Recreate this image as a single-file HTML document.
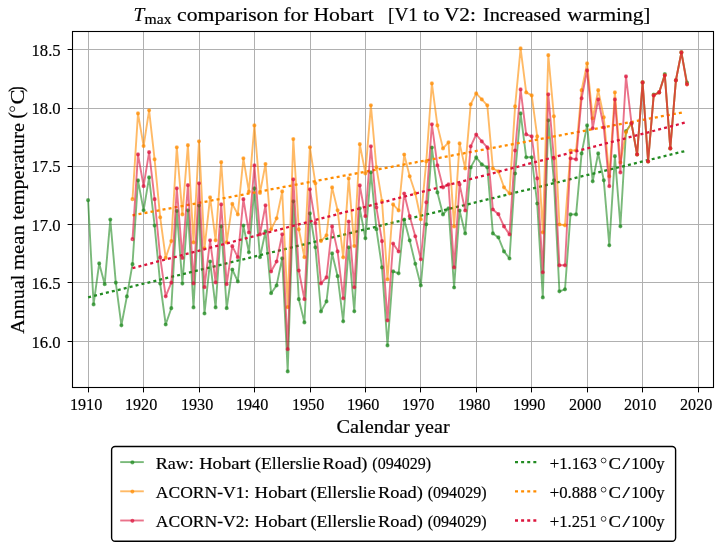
<!DOCTYPE html>
<html><head><meta charset="utf-8"><title>Tmax comparison for Hobart</title>
<style>
html,body{margin:0;padding:0;background:#fff;}
body{width:726px;height:551px;overflow:hidden;}
svg{display:block;will-change:transform;}
text{font-family:"Liberation Serif",serif;fill:#000;stroke:#000;stroke-width:0.18px;}
</style></head><body>
<svg width="726" height="551" viewBox="0 0 726 551">
<rect x="0" y="0" width="726" height="551" fill="#fff"/>
<g stroke="#b0b0b0" stroke-width="1" fill="none"><line x1="88.5" y1="31.5" x2="88.5" y2="387.5"/><line x1="143.5" y1="31.5" x2="143.5" y2="387.5"/><line x1="199.5" y1="31.5" x2="199.5" y2="387.5"/><line x1="254.5" y1="31.5" x2="254.5" y2="387.5"/><line x1="310.5" y1="31.5" x2="310.5" y2="387.5"/><line x1="365.5" y1="31.5" x2="365.5" y2="387.5"/><line x1="420.5" y1="31.5" x2="420.5" y2="387.5"/><line x1="476.5" y1="31.5" x2="476.5" y2="387.5"/><line x1="531.5" y1="31.5" x2="531.5" y2="387.5"/><line x1="587.5" y1="31.5" x2="587.5" y2="387.5"/><line x1="642.5" y1="31.5" x2="642.5" y2="387.5"/><line x1="698.5" y1="31.5" x2="698.5" y2="387.5"/><line x1="72.5" y1="341.5" x2="713.5" y2="341.5"/><line x1="72.5" y1="282.5" x2="713.5" y2="282.5"/><line x1="72.5" y1="224.5" x2="713.5" y2="224.5"/><line x1="72.5" y1="166.5" x2="713.5" y2="166.5"/><line x1="72.5" y1="108.5" x2="713.5" y2="108.5"/><line x1="72.5" y1="49.5" x2="713.5" y2="49.5"/></g>
<clipPath id="c"><rect x="72.5" y="31.5" width="641.0" height="356.0"/></clipPath>
<g clip-path="url(#c)">
<polyline points="88.1,200.2 93.6,304.4 99.2,263.4 104.7,284.2 110.3,219.6 115.8,282.7 121.4,325.3 126.9,296.4 132.5,264.2 138.0,180.4 143.6,210.3 149.1,177.4 154.6,225.6 160.2,283.6 165.7,324.5 171.3,308.2 176.8,210.9 182.4,283.6 187.9,210.3 193.5,307.4 199.0,205.5 204.5,313.5 210.1,261.5 215.6,307.4 221.2,226.4 226.7,308.2 232.3,269.5 237.8,281.4 243.4,225.6 248.9,252.3 254.4,188.4 260.0,257.2 265.5,231.4 271.1,293.2 276.6,285.4 282.2,258.3 287.7,371.4 293.3,201.3 298.8,299.2 304.4,322.4 309.9,213.4 315.4,247.3 321.0,311.4 326.5,301.4 332.1,253.4 337.6,276.2 343.2,321.3 348.7,247.3 354.3,311.3 359.8,208.3 365.4,238.3 370.9,172.3 376.4,229.2 382.0,267.4 387.5,345.4 393.1,271.3 398.6,273.3 404.2,219.5 409.7,240.4 415.3,263.8 420.8,285.4 426.3,224.3 431.9,147.5 437.4,192.4 443.0,214.4 448.5,208.3 454.1,287.5 459.6,210.5 465.2,233.4 470.7,167.4 476.2,157.4 481.8,164.4 487.3,167.4 492.9,233.4 498.4,237.4 504.0,251.4 509.5,258.5 515.1,173.5 520.6,113.4 526.2,157.3 531.7,157.3 537.2,203.5 542.8,297.4 548.3,120.3 553.9,180.3 559.4,291.3 565.0,289.3 570.5,214.4 576.1,214.4 581.6,153.4 587.1,125.4 592.7,181.3 598.2,153.4 603.8,180.3 609.3,245.3 614.9,156.2 620.4,226.3 626.0,131.2 631.5,123.3 637.1,154.5 642.6,82.4 648.1,161.5 653.7,94.6 659.2,92.4 664.8,74.1 670.3,148.4 675.9,80.3 681.4,52.4 687.0,82.5" fill="none" stroke="#228b22" stroke-width="1.9" stroke-opacity="0.6" stroke-linejoin="round"/>
<g fill="#228b22" fill-opacity="0.6" stroke="#228b22" stroke-opacity="0.6" stroke-width="1.39"><circle cx="88.1" cy="200.2" r="1.39"/><circle cx="93.6" cy="304.4" r="1.39"/><circle cx="99.2" cy="263.4" r="1.39"/><circle cx="104.7" cy="284.2" r="1.39"/><circle cx="110.3" cy="219.6" r="1.39"/><circle cx="115.8" cy="282.7" r="1.39"/><circle cx="121.4" cy="325.3" r="1.39"/><circle cx="126.9" cy="296.4" r="1.39"/><circle cx="132.5" cy="264.2" r="1.39"/><circle cx="138.0" cy="180.4" r="1.39"/><circle cx="143.6" cy="210.3" r="1.39"/><circle cx="149.1" cy="177.4" r="1.39"/><circle cx="154.6" cy="225.6" r="1.39"/><circle cx="160.2" cy="283.6" r="1.39"/><circle cx="165.7" cy="324.5" r="1.39"/><circle cx="171.3" cy="308.2" r="1.39"/><circle cx="176.8" cy="210.9" r="1.39"/><circle cx="182.4" cy="283.6" r="1.39"/><circle cx="187.9" cy="210.3" r="1.39"/><circle cx="193.5" cy="307.4" r="1.39"/><circle cx="199.0" cy="205.5" r="1.39"/><circle cx="204.5" cy="313.5" r="1.39"/><circle cx="210.1" cy="261.5" r="1.39"/><circle cx="215.6" cy="307.4" r="1.39"/><circle cx="221.2" cy="226.4" r="1.39"/><circle cx="226.7" cy="308.2" r="1.39"/><circle cx="232.3" cy="269.5" r="1.39"/><circle cx="237.8" cy="281.4" r="1.39"/><circle cx="243.4" cy="225.6" r="1.39"/><circle cx="248.9" cy="252.3" r="1.39"/><circle cx="254.4" cy="188.4" r="1.39"/><circle cx="260.0" cy="257.2" r="1.39"/><circle cx="265.5" cy="231.4" r="1.39"/><circle cx="271.1" cy="293.2" r="1.39"/><circle cx="276.6" cy="285.4" r="1.39"/><circle cx="282.2" cy="258.3" r="1.39"/><circle cx="287.7" cy="371.4" r="1.39"/><circle cx="293.3" cy="201.3" r="1.39"/><circle cx="298.8" cy="299.2" r="1.39"/><circle cx="304.4" cy="322.4" r="1.39"/><circle cx="309.9" cy="213.4" r="1.39"/><circle cx="315.4" cy="247.3" r="1.39"/><circle cx="321.0" cy="311.4" r="1.39"/><circle cx="326.5" cy="301.4" r="1.39"/><circle cx="332.1" cy="253.4" r="1.39"/><circle cx="337.6" cy="276.2" r="1.39"/><circle cx="343.2" cy="321.3" r="1.39"/><circle cx="348.7" cy="247.3" r="1.39"/><circle cx="354.3" cy="311.3" r="1.39"/><circle cx="359.8" cy="208.3" r="1.39"/><circle cx="365.4" cy="238.3" r="1.39"/><circle cx="370.9" cy="172.3" r="1.39"/><circle cx="376.4" cy="229.2" r="1.39"/><circle cx="382.0" cy="267.4" r="1.39"/><circle cx="387.5" cy="345.4" r="1.39"/><circle cx="393.1" cy="271.3" r="1.39"/><circle cx="398.6" cy="273.3" r="1.39"/><circle cx="404.2" cy="219.5" r="1.39"/><circle cx="409.7" cy="240.4" r="1.39"/><circle cx="415.3" cy="263.8" r="1.39"/><circle cx="420.8" cy="285.4" r="1.39"/><circle cx="426.3" cy="224.3" r="1.39"/><circle cx="431.9" cy="147.5" r="1.39"/><circle cx="437.4" cy="192.4" r="1.39"/><circle cx="443.0" cy="214.4" r="1.39"/><circle cx="448.5" cy="208.3" r="1.39"/><circle cx="454.1" cy="287.5" r="1.39"/><circle cx="459.6" cy="210.5" r="1.39"/><circle cx="465.2" cy="233.4" r="1.39"/><circle cx="470.7" cy="167.4" r="1.39"/><circle cx="476.2" cy="157.4" r="1.39"/><circle cx="481.8" cy="164.4" r="1.39"/><circle cx="487.3" cy="167.4" r="1.39"/><circle cx="492.9" cy="233.4" r="1.39"/><circle cx="498.4" cy="237.4" r="1.39"/><circle cx="504.0" cy="251.4" r="1.39"/><circle cx="509.5" cy="258.5" r="1.39"/><circle cx="515.1" cy="173.5" r="1.39"/><circle cx="520.6" cy="113.4" r="1.39"/><circle cx="526.2" cy="157.3" r="1.39"/><circle cx="531.7" cy="157.3" r="1.39"/><circle cx="537.2" cy="203.5" r="1.39"/><circle cx="542.8" cy="297.4" r="1.39"/><circle cx="548.3" cy="120.3" r="1.39"/><circle cx="553.9" cy="180.3" r="1.39"/><circle cx="559.4" cy="291.3" r="1.39"/><circle cx="565.0" cy="289.3" r="1.39"/><circle cx="570.5" cy="214.4" r="1.39"/><circle cx="576.1" cy="214.4" r="1.39"/><circle cx="581.6" cy="153.4" r="1.39"/><circle cx="587.1" cy="125.4" r="1.39"/><circle cx="592.7" cy="181.3" r="1.39"/><circle cx="598.2" cy="153.4" r="1.39"/><circle cx="603.8" cy="180.3" r="1.39"/><circle cx="609.3" cy="245.3" r="1.39"/><circle cx="614.9" cy="156.2" r="1.39"/><circle cx="620.4" cy="226.3" r="1.39"/><circle cx="626.0" cy="131.2" r="1.39"/><circle cx="631.5" cy="123.3" r="1.39"/><circle cx="637.1" cy="154.5" r="1.39"/><circle cx="642.6" cy="82.4" r="1.39"/><circle cx="648.1" cy="161.5" r="1.39"/><circle cx="653.7" cy="94.6" r="1.39"/><circle cx="659.2" cy="92.4" r="1.39"/><circle cx="664.8" cy="74.1" r="1.39"/><circle cx="670.3" cy="148.4" r="1.39"/><circle cx="675.9" cy="80.3" r="1.39"/><circle cx="681.4" cy="52.4" r="1.39"/><circle cx="687.0" cy="82.5" r="1.39"/></g>
<line x1="88.1" y1="297.3" x2="687.0" y2="150.6" stroke="#228b22" stroke-width="2.3" stroke-dasharray="3 3.108"/>
<polyline points="132.5,199.2 138.0,113.4 143.6,146.1 149.1,110.3 154.6,159.3 160.2,217.3 165.7,257.9 171.3,241.1 176.8,147.3 182.4,214.4 187.9,145.2 193.5,242.4 199.0,141.3 204.5,248.3 210.1,197.4 215.6,240.3 221.2,162.2 226.7,242.4 232.3,203.9 237.8,214.4 243.4,158.3 248.9,191.7 254.4,125.4 260.0,192.9 265.5,164.0 271.1,229.3 276.6,218.3 282.2,191.4 287.7,307.2 293.3,139.1 298.8,229.3 304.4,257.2 309.9,147.3 315.4,183.3 321.0,241.1 326.5,235.3 332.1,187.4 337.6,210.3 343.2,257.3 348.7,178.4 354.3,246.1 359.8,144.2 365.4,173.4 370.9,105.3 376.4,167.3 382.0,201.1 387.5,279.4 393.1,204.4 398.6,210.4 404.2,154.5 409.7,176.3 415.3,193.3 420.8,219.3 426.3,161.4 431.9,83.4 437.4,125.4 443.0,148.4 448.5,142.3 454.1,226.4 459.6,143.4 465.2,168.4 470.7,104.3 476.2,93.4 481.8,99.4 487.3,105.3 492.9,168.5 498.4,171.4 504.0,187.3 509.5,193.3 515.1,106.4 520.6,48.4 526.2,92.4 531.7,95.4 537.2,136.4 542.8,232.3 548.3,55.2 553.9,116.3 559.4,224.5 565.0,225.3 570.5,150.5 576.1,150.5 581.6,90.2 587.1,63.4 592.7,118.4 598.2,90.2 603.8,117.3 609.3,176.3 614.9,92.4 620.4,162.5 626.0,132.3 631.5,123.3 637.1,154.5 642.6,82.4 648.1,161.5 653.7,95.4 659.2,92.4 664.8,75.3 670.3,148.4 675.9,80.3 681.4,52.4 687.0,84.3" fill="none" stroke="#ff8c00" stroke-width="1.9" stroke-opacity="0.6" stroke-linejoin="round"/>
<g fill="#ff8c00" fill-opacity="0.6" stroke="#ff8c00" stroke-opacity="0.6" stroke-width="1.39"><circle cx="132.5" cy="199.2" r="1.39"/><circle cx="138.0" cy="113.4" r="1.39"/><circle cx="143.6" cy="146.1" r="1.39"/><circle cx="149.1" cy="110.3" r="1.39"/><circle cx="154.6" cy="159.3" r="1.39"/><circle cx="160.2" cy="217.3" r="1.39"/><circle cx="165.7" cy="257.9" r="1.39"/><circle cx="171.3" cy="241.1" r="1.39"/><circle cx="176.8" cy="147.3" r="1.39"/><circle cx="182.4" cy="214.4" r="1.39"/><circle cx="187.9" cy="145.2" r="1.39"/><circle cx="193.5" cy="242.4" r="1.39"/><circle cx="199.0" cy="141.3" r="1.39"/><circle cx="204.5" cy="248.3" r="1.39"/><circle cx="210.1" cy="197.4" r="1.39"/><circle cx="215.6" cy="240.3" r="1.39"/><circle cx="221.2" cy="162.2" r="1.39"/><circle cx="226.7" cy="242.4" r="1.39"/><circle cx="232.3" cy="203.9" r="1.39"/><circle cx="237.8" cy="214.4" r="1.39"/><circle cx="243.4" cy="158.3" r="1.39"/><circle cx="248.9" cy="191.7" r="1.39"/><circle cx="254.4" cy="125.4" r="1.39"/><circle cx="260.0" cy="192.9" r="1.39"/><circle cx="265.5" cy="164.0" r="1.39"/><circle cx="271.1" cy="229.3" r="1.39"/><circle cx="276.6" cy="218.3" r="1.39"/><circle cx="282.2" cy="191.4" r="1.39"/><circle cx="287.7" cy="307.2" r="1.39"/><circle cx="293.3" cy="139.1" r="1.39"/><circle cx="298.8" cy="229.3" r="1.39"/><circle cx="304.4" cy="257.2" r="1.39"/><circle cx="309.9" cy="147.3" r="1.39"/><circle cx="315.4" cy="183.3" r="1.39"/><circle cx="321.0" cy="241.1" r="1.39"/><circle cx="326.5" cy="235.3" r="1.39"/><circle cx="332.1" cy="187.4" r="1.39"/><circle cx="337.6" cy="210.3" r="1.39"/><circle cx="343.2" cy="257.3" r="1.39"/><circle cx="348.7" cy="178.4" r="1.39"/><circle cx="354.3" cy="246.1" r="1.39"/><circle cx="359.8" cy="144.2" r="1.39"/><circle cx="365.4" cy="173.4" r="1.39"/><circle cx="370.9" cy="105.3" r="1.39"/><circle cx="376.4" cy="167.3" r="1.39"/><circle cx="382.0" cy="201.1" r="1.39"/><circle cx="387.5" cy="279.4" r="1.39"/><circle cx="393.1" cy="204.4" r="1.39"/><circle cx="398.6" cy="210.4" r="1.39"/><circle cx="404.2" cy="154.5" r="1.39"/><circle cx="409.7" cy="176.3" r="1.39"/><circle cx="415.3" cy="193.3" r="1.39"/><circle cx="420.8" cy="219.3" r="1.39"/><circle cx="426.3" cy="161.4" r="1.39"/><circle cx="431.9" cy="83.4" r="1.39"/><circle cx="437.4" cy="125.4" r="1.39"/><circle cx="443.0" cy="148.4" r="1.39"/><circle cx="448.5" cy="142.3" r="1.39"/><circle cx="454.1" cy="226.4" r="1.39"/><circle cx="459.6" cy="143.4" r="1.39"/><circle cx="465.2" cy="168.4" r="1.39"/><circle cx="470.7" cy="104.3" r="1.39"/><circle cx="476.2" cy="93.4" r="1.39"/><circle cx="481.8" cy="99.4" r="1.39"/><circle cx="487.3" cy="105.3" r="1.39"/><circle cx="492.9" cy="168.5" r="1.39"/><circle cx="498.4" cy="171.4" r="1.39"/><circle cx="504.0" cy="187.3" r="1.39"/><circle cx="509.5" cy="193.3" r="1.39"/><circle cx="515.1" cy="106.4" r="1.39"/><circle cx="520.6" cy="48.4" r="1.39"/><circle cx="526.2" cy="92.4" r="1.39"/><circle cx="531.7" cy="95.4" r="1.39"/><circle cx="537.2" cy="136.4" r="1.39"/><circle cx="542.8" cy="232.3" r="1.39"/><circle cx="548.3" cy="55.2" r="1.39"/><circle cx="553.9" cy="116.3" r="1.39"/><circle cx="559.4" cy="224.5" r="1.39"/><circle cx="565.0" cy="225.3" r="1.39"/><circle cx="570.5" cy="150.5" r="1.39"/><circle cx="576.1" cy="150.5" r="1.39"/><circle cx="581.6" cy="90.2" r="1.39"/><circle cx="587.1" cy="63.4" r="1.39"/><circle cx="592.7" cy="118.4" r="1.39"/><circle cx="598.2" cy="90.2" r="1.39"/><circle cx="603.8" cy="117.3" r="1.39"/><circle cx="609.3" cy="176.3" r="1.39"/><circle cx="614.9" cy="92.4" r="1.39"/><circle cx="620.4" cy="162.5" r="1.39"/><circle cx="626.0" cy="132.3" r="1.39"/><circle cx="631.5" cy="123.3" r="1.39"/><circle cx="637.1" cy="154.5" r="1.39"/><circle cx="642.6" cy="82.4" r="1.39"/><circle cx="648.1" cy="161.5" r="1.39"/><circle cx="653.7" cy="95.4" r="1.39"/><circle cx="659.2" cy="92.4" r="1.39"/><circle cx="664.8" cy="75.3" r="1.39"/><circle cx="670.3" cy="148.4" r="1.39"/><circle cx="675.9" cy="80.3" r="1.39"/><circle cx="681.4" cy="52.4" r="1.39"/><circle cx="687.0" cy="84.3" r="1.39"/></g>
<line x1="132.5" y1="215.3" x2="684.2" y2="112.1" stroke="#ff8c00" stroke-width="2.3" stroke-dasharray="3 3.108"/>
<polyline points="132.5,239.2 138.0,154.4 143.6,186.2 149.1,152.2 154.6,199.2 160.2,257.4 165.7,296.3 171.3,282.7 176.8,188.3 182.4,257.9 187.9,185.2 193.5,283.4 199.0,183.3 204.5,287.2 210.1,240.3 215.6,282.4 221.2,204.4 226.7,284.2 232.3,246.2 237.8,257.2 243.4,199.2 248.9,232.5 254.4,165.3 260.0,234.3 265.5,205.3 271.1,271.5 276.6,261.5 282.2,234.3 287.7,349.2 293.3,179.3 298.8,270.5 304.4,299.2 309.9,189.3 315.4,223.1 321.0,283.4 326.5,277.4 332.1,226.4 337.6,251.4 343.2,298.3 348.7,221.5 354.3,287.3 359.8,185.4 365.4,216.2 370.9,146.3 376.4,207.4 382.0,241.2 387.5,320.4 393.1,243.6 398.6,251.5 404.2,193.5 409.7,216.2 415.3,236.3 420.8,259.3 426.3,202.3 431.9,124.3 437.4,165.3 443.0,187.4 448.5,184.4 454.1,267.4 459.6,184.4 465.2,210.5 470.7,146.3 476.2,134.5 481.8,141.4 487.3,147.3 492.9,209.5 498.4,214.2 504.0,226.4 509.5,234.4 515.1,150.5 520.6,89.4 526.2,134.4 531.7,136.4 537.2,178.4 542.8,272.3 548.3,94.3 553.9,158.3 559.4,265.3 565.0,265.3 570.5,158.3 576.1,159.4 581.6,98.3 587.1,70.4 592.7,128.3 598.2,99.4 603.8,127.5 609.3,186.2 614.9,99.4 620.4,172.4 626.0,76.4 631.5,123.3 637.1,154.5 642.6,82.4 648.1,161.5 653.7,95.4 659.2,92.4 664.8,75.3 670.3,148.4 675.9,80.3 681.4,52.4 687.0,84.3" fill="none" stroke="#dc143c" stroke-width="1.9" stroke-opacity="0.6" stroke-linejoin="round"/>
<g fill="#dc143c" fill-opacity="0.6" stroke="#dc143c" stroke-opacity="0.6" stroke-width="1.39"><circle cx="132.5" cy="239.2" r="1.39"/><circle cx="138.0" cy="154.4" r="1.39"/><circle cx="143.6" cy="186.2" r="1.39"/><circle cx="149.1" cy="152.2" r="1.39"/><circle cx="154.6" cy="199.2" r="1.39"/><circle cx="160.2" cy="257.4" r="1.39"/><circle cx="165.7" cy="296.3" r="1.39"/><circle cx="171.3" cy="282.7" r="1.39"/><circle cx="176.8" cy="188.3" r="1.39"/><circle cx="182.4" cy="257.9" r="1.39"/><circle cx="187.9" cy="185.2" r="1.39"/><circle cx="193.5" cy="283.4" r="1.39"/><circle cx="199.0" cy="183.3" r="1.39"/><circle cx="204.5" cy="287.2" r="1.39"/><circle cx="210.1" cy="240.3" r="1.39"/><circle cx="215.6" cy="282.4" r="1.39"/><circle cx="221.2" cy="204.4" r="1.39"/><circle cx="226.7" cy="284.2" r="1.39"/><circle cx="232.3" cy="246.2" r="1.39"/><circle cx="237.8" cy="257.2" r="1.39"/><circle cx="243.4" cy="199.2" r="1.39"/><circle cx="248.9" cy="232.5" r="1.39"/><circle cx="254.4" cy="165.3" r="1.39"/><circle cx="260.0" cy="234.3" r="1.39"/><circle cx="265.5" cy="205.3" r="1.39"/><circle cx="271.1" cy="271.5" r="1.39"/><circle cx="276.6" cy="261.5" r="1.39"/><circle cx="282.2" cy="234.3" r="1.39"/><circle cx="287.7" cy="349.2" r="1.39"/><circle cx="293.3" cy="179.3" r="1.39"/><circle cx="298.8" cy="270.5" r="1.39"/><circle cx="304.4" cy="299.2" r="1.39"/><circle cx="309.9" cy="189.3" r="1.39"/><circle cx="315.4" cy="223.1" r="1.39"/><circle cx="321.0" cy="283.4" r="1.39"/><circle cx="326.5" cy="277.4" r="1.39"/><circle cx="332.1" cy="226.4" r="1.39"/><circle cx="337.6" cy="251.4" r="1.39"/><circle cx="343.2" cy="298.3" r="1.39"/><circle cx="348.7" cy="221.5" r="1.39"/><circle cx="354.3" cy="287.3" r="1.39"/><circle cx="359.8" cy="185.4" r="1.39"/><circle cx="365.4" cy="216.2" r="1.39"/><circle cx="370.9" cy="146.3" r="1.39"/><circle cx="376.4" cy="207.4" r="1.39"/><circle cx="382.0" cy="241.2" r="1.39"/><circle cx="387.5" cy="320.4" r="1.39"/><circle cx="393.1" cy="243.6" r="1.39"/><circle cx="398.6" cy="251.5" r="1.39"/><circle cx="404.2" cy="193.5" r="1.39"/><circle cx="409.7" cy="216.2" r="1.39"/><circle cx="415.3" cy="236.3" r="1.39"/><circle cx="420.8" cy="259.3" r="1.39"/><circle cx="426.3" cy="202.3" r="1.39"/><circle cx="431.9" cy="124.3" r="1.39"/><circle cx="437.4" cy="165.3" r="1.39"/><circle cx="443.0" cy="187.4" r="1.39"/><circle cx="448.5" cy="184.4" r="1.39"/><circle cx="454.1" cy="267.4" r="1.39"/><circle cx="459.6" cy="184.4" r="1.39"/><circle cx="465.2" cy="210.5" r="1.39"/><circle cx="470.7" cy="146.3" r="1.39"/><circle cx="476.2" cy="134.5" r="1.39"/><circle cx="481.8" cy="141.4" r="1.39"/><circle cx="487.3" cy="147.3" r="1.39"/><circle cx="492.9" cy="209.5" r="1.39"/><circle cx="498.4" cy="214.2" r="1.39"/><circle cx="504.0" cy="226.4" r="1.39"/><circle cx="509.5" cy="234.4" r="1.39"/><circle cx="515.1" cy="150.5" r="1.39"/><circle cx="520.6" cy="89.4" r="1.39"/><circle cx="526.2" cy="134.4" r="1.39"/><circle cx="531.7" cy="136.4" r="1.39"/><circle cx="537.2" cy="178.4" r="1.39"/><circle cx="542.8" cy="272.3" r="1.39"/><circle cx="548.3" cy="94.3" r="1.39"/><circle cx="553.9" cy="158.3" r="1.39"/><circle cx="559.4" cy="265.3" r="1.39"/><circle cx="565.0" cy="265.3" r="1.39"/><circle cx="570.5" cy="158.3" r="1.39"/><circle cx="576.1" cy="159.4" r="1.39"/><circle cx="581.6" cy="98.3" r="1.39"/><circle cx="587.1" cy="70.4" r="1.39"/><circle cx="592.7" cy="128.3" r="1.39"/><circle cx="598.2" cy="99.4" r="1.39"/><circle cx="603.8" cy="127.5" r="1.39"/><circle cx="609.3" cy="186.2" r="1.39"/><circle cx="614.9" cy="99.4" r="1.39"/><circle cx="620.4" cy="172.4" r="1.39"/><circle cx="626.0" cy="76.4" r="1.39"/><circle cx="631.5" cy="123.3" r="1.39"/><circle cx="637.1" cy="154.5" r="1.39"/><circle cx="642.6" cy="82.4" r="1.39"/><circle cx="648.1" cy="161.5" r="1.39"/><circle cx="653.7" cy="95.4" r="1.39"/><circle cx="659.2" cy="92.4" r="1.39"/><circle cx="664.8" cy="75.3" r="1.39"/><circle cx="670.3" cy="148.4" r="1.39"/><circle cx="675.9" cy="80.3" r="1.39"/><circle cx="681.4" cy="52.4" r="1.39"/><circle cx="687.0" cy="84.3" r="1.39"/></g>
<line x1="132.5" y1="268.2" x2="687.0" y2="122.1" stroke="#dc143c" stroke-width="2.3" stroke-dasharray="3 3.108"/>
</g>
<rect x="72.5" y="31.5" width="641.0" height="356.0" fill="none" stroke="#000" stroke-width="1.1"/>
<g stroke="#000" stroke-width="1"><line x1="88.5" y1="387.5" x2="88.5" y2="392.4"/><line x1="143.5" y1="387.5" x2="143.5" y2="392.4"/><line x1="199.5" y1="387.5" x2="199.5" y2="392.4"/><line x1="254.5" y1="387.5" x2="254.5" y2="392.4"/><line x1="310.5" y1="387.5" x2="310.5" y2="392.4"/><line x1="365.5" y1="387.5" x2="365.5" y2="392.4"/><line x1="420.5" y1="387.5" x2="420.5" y2="392.4"/><line x1="476.5" y1="387.5" x2="476.5" y2="392.4"/><line x1="531.5" y1="387.5" x2="531.5" y2="392.4"/><line x1="587.5" y1="387.5" x2="587.5" y2="392.4"/><line x1="642.5" y1="387.5" x2="642.5" y2="392.4"/><line x1="698.5" y1="387.5" x2="698.5" y2="392.4"/><line x1="67.6" y1="341.5" x2="72.5" y2="341.5"/><line x1="67.6" y1="282.5" x2="72.5" y2="282.5"/><line x1="67.6" y1="224.5" x2="72.5" y2="224.5"/><line x1="67.6" y1="166.5" x2="72.5" y2="166.5"/><line x1="67.6" y1="108.5" x2="72.5" y2="108.5"/><line x1="67.6" y1="49.5" x2="72.5" y2="49.5"/></g>
<text x="86.1" y="409.7" font-size="17.5px" text-anchor="middle" textLength="32.4" lengthAdjust="spacingAndGlyphs">1910</text><text x="141.1" y="409.7" font-size="17.5px" text-anchor="middle" textLength="32.4" lengthAdjust="spacingAndGlyphs">1920</text><text x="197.1" y="409.7" font-size="17.5px" text-anchor="middle" textLength="32.4" lengthAdjust="spacingAndGlyphs">1930</text><text x="252.1" y="409.7" font-size="17.5px" text-anchor="middle" textLength="32.4" lengthAdjust="spacingAndGlyphs">1940</text><text x="308.1" y="409.7" font-size="17.5px" text-anchor="middle" textLength="32.4" lengthAdjust="spacingAndGlyphs">1950</text><text x="363.1" y="409.7" font-size="17.5px" text-anchor="middle" textLength="32.4" lengthAdjust="spacingAndGlyphs">1960</text><text x="418.1" y="409.7" font-size="17.5px" text-anchor="middle" textLength="32.4" lengthAdjust="spacingAndGlyphs">1970</text><text x="474.1" y="409.7" font-size="17.5px" text-anchor="middle" textLength="32.4" lengthAdjust="spacingAndGlyphs">1980</text><text x="529.1" y="409.7" font-size="17.5px" text-anchor="middle" textLength="32.4" lengthAdjust="spacingAndGlyphs">1990</text><text x="585.1" y="409.7" font-size="17.5px" text-anchor="middle" textLength="32.4" lengthAdjust="spacingAndGlyphs">2000</text><text x="640.1" y="409.7" font-size="17.5px" text-anchor="middle" textLength="32.4" lengthAdjust="spacingAndGlyphs">2010</text><text x="696.1" y="409.7" font-size="17.5px" text-anchor="middle" textLength="32.4" lengthAdjust="spacingAndGlyphs">2020</text>
<text x="60.7" y="347.5" font-size="17.5px" text-anchor="end" textLength="29.2" lengthAdjust="spacingAndGlyphs">16.0</text><text x="60.7" y="289.1" font-size="17.5px" text-anchor="end" textLength="29.2" lengthAdjust="spacingAndGlyphs">16.5</text><text x="60.7" y="230.7" font-size="17.5px" text-anchor="end" textLength="29.2" lengthAdjust="spacingAndGlyphs">17.0</text><text x="60.7" y="172.4" font-size="17.5px" text-anchor="end" textLength="29.2" lengthAdjust="spacingAndGlyphs">17.5</text><text x="60.7" y="114.0" font-size="17.5px" text-anchor="end" textLength="29.2" lengthAdjust="spacingAndGlyphs">18.0</text><text x="60.7" y="55.6" font-size="17.5px" text-anchor="end" textLength="29.2" lengthAdjust="spacingAndGlyphs">18.5</text>
<text x="336.4" y="432.7" font-size="19.5px" textLength="73.4" lengthAdjust="spacingAndGlyphs">Calendar</text><text x="415.0" y="432.7" font-size="19.5px" textLength="34.6" lengthAdjust="spacingAndGlyphs">year</text>
<text transform="translate(23.8,333.7) rotate(-90)" font-size="19.5px" textLength="59.1" lengthAdjust="spacingAndGlyphs">Annual</text><text transform="translate(23.8,270.1) rotate(-90)" font-size="19.5px" textLength="44.9" lengthAdjust="spacingAndGlyphs">mean</text><text transform="translate(23.8,220.0) rotate(-90)" font-size="19.5px" textLength="97.0" lengthAdjust="spacingAndGlyphs">temperature</text><text transform="translate(23.1,118.5) rotate(-90)" font-size="21.0px" textLength="6.3" lengthAdjust="spacingAndGlyphs">(</text><text transform="translate(23.8,104.4) rotate(-90)" font-size="19.5px" textLength="15.0" lengthAdjust="spacingAndGlyphs">C</text><text transform="translate(23.1,92.1) rotate(-90)" font-size="21.0px" textLength="5.6" lengthAdjust="spacingAndGlyphs">)</text><circle cx="12.3" cy="109.0" r="2.45" fill="none" stroke="#000" stroke-width="0.8"/>
<text x="133.6" y="21.2" font-size="19.5px" font-style="italic">T</text><text x="144.6" y="24.3" font-size="14.6px" textLength="27.0" lengthAdjust="spacingAndGlyphs">max</text><text x="177.1" y="21.2" font-size="19.5px" textLength="101.2" lengthAdjust="spacingAndGlyphs">comparison</text><text x="283.5" y="21.2" font-size="19.5px" textLength="24.7" lengthAdjust="spacingAndGlyphs">for</text><text x="313.4" y="21.2" font-size="19.5px" textLength="60.3" lengthAdjust="spacingAndGlyphs">Hobart</text><text x="388.0" y="21.2" font-size="19.5px" textLength="29.9" lengthAdjust="spacingAndGlyphs">[V1</text><text x="423.1" y="21.2" font-size="19.5px" textLength="16.4" lengthAdjust="spacingAndGlyphs">to</text><text x="443.9" y="21.2" font-size="19.5px" textLength="31.9" lengthAdjust="spacingAndGlyphs">V2:</text><text x="482.9" y="21.2" font-size="19.5px" textLength="77.7" lengthAdjust="spacingAndGlyphs">Increased</text><text x="567.3" y="21.2" font-size="19.5px" textLength="83.2" lengthAdjust="spacingAndGlyphs">warming]</text>
<rect x="111.6" y="446.5" width="564" height="94.7" rx="3.5" ry="3.5" fill="#fff" stroke="#000" stroke-width="1.4"/>
<line x1="120.2" y1="462.1" x2="143.8" y2="462.1" stroke="#228b22" stroke-width="1.9" stroke-opacity="0.6"/><circle cx="132.4" cy="462.4" r="1.39" fill="#228b22" fill-opacity="0.6" stroke="#228b22" stroke-opacity="0.6" stroke-width="1.39"/><text x="155.8" y="468.8" font-size="16.8px" textLength="38.1" lengthAdjust="spacingAndGlyphs">Raw:</text><text x="199.2" y="468.8" font-size="16.8px" textLength="51.6" lengthAdjust="spacingAndGlyphs">Hobart</text><text x="255.1" y="468.8" font-size="16.8px" textLength="65.1" lengthAdjust="spacingAndGlyphs">(Ellerslie</text><text x="322.6" y="468.8" font-size="16.8px" textLength="44.9" lengthAdjust="spacingAndGlyphs">Road)</text><text x="372.3" y="468.8" font-size="16.8px" textLength="58.8" lengthAdjust="spacingAndGlyphs">(094029)</text><line x1="515.0" y1="462.1" x2="538.4" y2="462.1" stroke="#228b22" stroke-width="2.3" stroke-dasharray="3 3.108"/><text x="549.8" y="468.8" font-size="16.8px" textLength="47.0" lengthAdjust="spacingAndGlyphs">+1.163</text><circle cx="603.6" cy="460.5" r="2.4" fill="none" stroke="#000" stroke-width="0.75"/><text x="608.6" y="468.8" font-size="16.8px" textLength="12.5" lengthAdjust="spacingAndGlyphs">C</text><text x="622.6" y="468.8" font-size="16.8px" textLength="7.5" lengthAdjust="spacingAndGlyphs">/</text><text x="631.2" y="468.8" font-size="16.8px" textLength="33.5" lengthAdjust="spacingAndGlyphs">100y</text>
<line x1="120.2" y1="491.3" x2="143.8" y2="491.3" stroke="#ff8c00" stroke-width="1.9" stroke-opacity="0.6"/><circle cx="132.4" cy="491.6" r="1.39" fill="#ff8c00" fill-opacity="0.6" stroke="#ff8c00" stroke-opacity="0.6" stroke-width="1.39"/><text x="155.8" y="498.0" font-size="16.8px" textLength="93.5" lengthAdjust="spacingAndGlyphs">ACORN-V1:</text><text x="254.6" y="498.0" font-size="16.8px" textLength="52.1" lengthAdjust="spacingAndGlyphs">Hobart</text><text x="310.5" y="498.0" font-size="16.8px" textLength="65.2" lengthAdjust="spacingAndGlyphs">(Ellerslie</text><text x="378.0" y="498.0" font-size="16.8px" textLength="44.9" lengthAdjust="spacingAndGlyphs">Road)</text><text x="427.7" y="498.0" font-size="16.8px" textLength="58.9" lengthAdjust="spacingAndGlyphs">(094029)</text><line x1="515.0" y1="491.3" x2="538.4" y2="491.3" stroke="#ff8c00" stroke-width="2.3" stroke-dasharray="3 3.108"/><text x="549.8" y="498.0" font-size="16.8px" textLength="47.0" lengthAdjust="spacingAndGlyphs">+0.888</text><circle cx="603.6" cy="489.7" r="2.4" fill="none" stroke="#000" stroke-width="0.75"/><text x="608.6" y="498.0" font-size="16.8px" textLength="12.5" lengthAdjust="spacingAndGlyphs">C</text><text x="622.6" y="498.0" font-size="16.8px" textLength="7.5" lengthAdjust="spacingAndGlyphs">/</text><text x="631.2" y="498.0" font-size="16.8px" textLength="33.5" lengthAdjust="spacingAndGlyphs">100y</text>
<line x1="120.2" y1="520.5" x2="143.8" y2="520.5" stroke="#dc143c" stroke-width="1.9" stroke-opacity="0.6"/><circle cx="132.4" cy="520.8" r="1.39" fill="#dc143c" fill-opacity="0.6" stroke="#dc143c" stroke-opacity="0.6" stroke-width="1.39"/><text x="155.8" y="527.2" font-size="16.8px" textLength="93.5" lengthAdjust="spacingAndGlyphs">ACORN-V2:</text><text x="254.6" y="527.2" font-size="16.8px" textLength="52.1" lengthAdjust="spacingAndGlyphs">Hobart</text><text x="310.5" y="527.2" font-size="16.8px" textLength="65.2" lengthAdjust="spacingAndGlyphs">(Ellerslie</text><text x="378.0" y="527.2" font-size="16.8px" textLength="44.9" lengthAdjust="spacingAndGlyphs">Road)</text><text x="427.7" y="527.2" font-size="16.8px" textLength="58.9" lengthAdjust="spacingAndGlyphs">(094029)</text><line x1="515.0" y1="520.5" x2="538.4" y2="520.5" stroke="#dc143c" stroke-width="2.3" stroke-dasharray="3 3.108"/><text x="549.8" y="527.2" font-size="16.8px" textLength="47.0" lengthAdjust="spacingAndGlyphs">+1.251</text><circle cx="603.6" cy="518.9" r="2.4" fill="none" stroke="#000" stroke-width="0.75"/><text x="608.6" y="527.2" font-size="16.8px" textLength="12.5" lengthAdjust="spacingAndGlyphs">C</text><text x="622.6" y="527.2" font-size="16.8px" textLength="7.5" lengthAdjust="spacingAndGlyphs">/</text><text x="631.2" y="527.2" font-size="16.8px" textLength="33.5" lengthAdjust="spacingAndGlyphs">100y</text>
</svg></body></html>
